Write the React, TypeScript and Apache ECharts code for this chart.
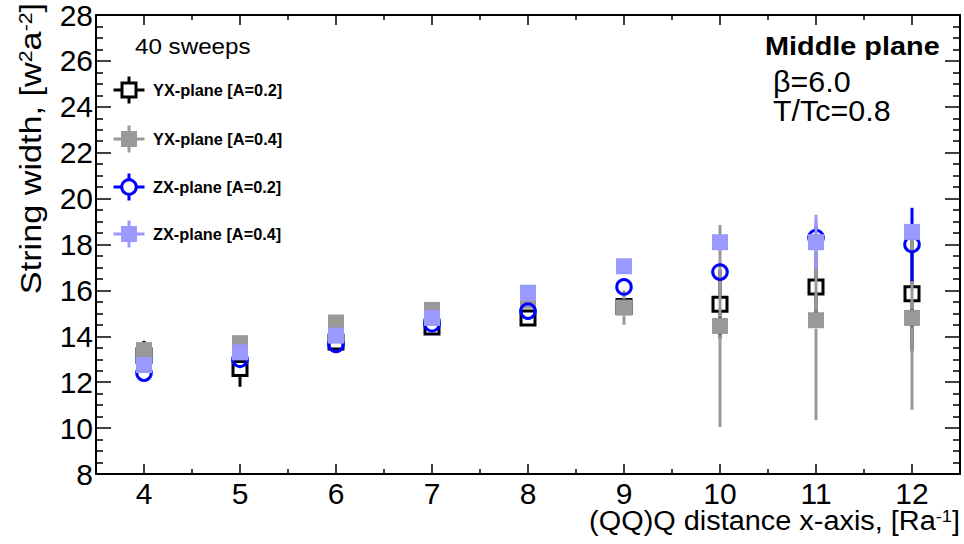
import React, { useEffect, useRef } from "react";
import * as echarts from "echarts";

const xValues = [4, 5, 6, 7, 8, 9, 10, 11, 12];
const xTickLabels = [4, 5, 6, 7, 8, 9, 10, 11, 12];
const xMinorTicks = [4.5, 5.5, 6.5, 7.5, 8.5, 9.5, 10.5, 11.5];

const yxA02 = [13.15, 12.6, 13.75, 14.4, 14.8, 15.3, 15.4, 16.15, 15.85];
const yxA02Err = [0.65, 0.8, 0.15, 0.15, 0.15, 0.2, 1.5, 1.5, 2.5];
const yxA04 = [13.4, 13.7, 14.6, 15.15, 15.55, 15.25, 14.45, 14.7, 14.8];
const yxA04Err = [0.2, 0.2, 0.15, 0.15, 0.2, 0.75, 4.4, 4.35, 4.0];
const zxA02 = [12.4, 13.0, 13.65, 14.55, 15.1, 16.15, 16.8, 18.3, 18.0];
const zxA02Err = [0.15, 0.15, 0.1, 0.15, 0.15, 0.2, 0.3, 0.5, 1.6];
const zxA04 = [12.75, 13.3, 14.03, 14.8, 15.9, 17.05, 18.1, 18.1, 18.55];
const zxA04Err = [0.1, 0.1, 0.1, 0.1, 0.1, 0.1, 0.2, 1.2, 0.3];

const legendNames = ["YX-plane [A=0.2]", "YX-plane [A=0.4]", "ZX-plane [A=0.2]", "ZX-plane [A=0.4]"];

const FONT = "'Liberation Sans', Arial, Helvetica, sans-serif";
const BLACK = "#000000";
const GRAY = "#999999";
const BLUE = "#0000ff";
const LBLUE = "#9999ff";

type Marker = "openSquare" | "square" | "openCircle";

function markerShape(marker: Marker, cx: number, cy: number, color: string): any {
  if (marker === "openSquare") {
    return { type: "rect", shape: { x: cx - 7, y: cy - 7, width: 14, height: 14 }, style: { fill: "none", stroke: color, lineWidth: 3 } };
  }
  if (marker === "openCircle") {
    return { type: "circle", shape: { cx, cy, r: 7.3 }, style: { fill: "none", stroke: color, lineWidth: 3 } };
  }
  return { type: "rect", shape: { x: cx - 8, y: cy - 8, width: 16, height: 16 }, style: { fill: color } };
}

function makeSeries(name: string, values: number[], errors: number[], marker: Marker, color: string, z: number): any {
  return {
    type: "custom",
    name,
    z,
    clip: false,
    encode: { x: 0, y: 1 },
    data: xValues.map((x, i) => [x, values[i], errors[i]]),
    renderItem: (_params: any, api: any) => {
      const x = api.value(0);
      const y = api.value(1);
      const e = api.value(2);
      const c = api.coord([x, y]);
      const t = api.coord([x, y + e]);
      const b = api.coord([x, y - e]);
      const half = 8.5;
      const children: any[] = [];
      if (c[1] - half > t[1]) {
        children.push({ type: "line", shape: { x1: c[0], y1: t[1], x2: c[0], y2: c[1] - half }, style: { stroke: color, lineWidth: 3 } });
      }
      if (b[1] > c[1] + half) {
        children.push({ type: "line", shape: { x1: c[0], y1: c[1] + half, x2: c[0], y2: b[1] }, style: { stroke: color, lineWidth: 3 } });
      }
      children.push(markerShape(marker, c[0], c[1], color));
      return { type: "group", children };
    },
  };
}

function legendEntry(label: string, marker: Marker, color: string, cy: number): any {
  const cx = 129;
  return {
    type: "group",
    children: [
      { type: "line", shape: { x1: cx - 15.5, y1: cy, x2: cx - 8, y2: cy }, style: { stroke: color, lineWidth: 3 } },
      { type: "line", shape: { x1: cx + 8, y1: cy, x2: cx + 15.5, y2: cy }, style: { stroke: color, lineWidth: 3 } },
      { type: "line", shape: { x1: cx, y1: cy - 13.5, x2: cx, y2: cy - 8 }, style: { stroke: color, lineWidth: 3 } },
      { type: "line", shape: { x1: cx, y1: cy + 8, x2: cx, y2: cy + 13.5 }, style: { stroke: color, lineWidth: 3 } },
      markerShape(marker, cx, cy, color),
      {
        type: "text",
        x: 153,
        y: cy,
        scaleX: 1.02,
        style: { text: label, font: `bold 16px ${FONT}`, fill: "#000", textAlign: "left", textVerticalAlign: "middle" },
      },
    ],
  };
}

export default function App() {
  const ref = useRef<HTMLDivElement>(null);
  useEffect(() => {
    if (!ref.current) return;
    const chart = echarts.init(ref.current, undefined, { renderer: "svg" });
    const axisLineStyle = { color: "#000", width: 2 };
    const tickStyle = { color: "#000", width: 1.5 };
    const grid = { left: 96, right: 4, top: 14, bottom: 70 };
    const baseX = { type: "value", min: 3.5, max: 12.5, gridIndex: 0, splitLine: { show: false } };
    const baseY = { type: "value", min: 8, max: 28, interval: 2, gridIndex: 0, splitLine: { show: false } };
    chart.setOption({
      animation: false,
      backgroundColor: "#ffffff",
      grid,
      xAxis: [
        {
          ...baseX,
          position: "bottom",
          axisLine: { show: true, lineStyle: axisLineStyle },
          axisTick: { show: true, inside: true, length: 10, lineStyle: tickStyle, customValues: xTickLabels },
          axisLabel: { show: true, customValues: xTickLabels, fontSize: 30, color: "#000", fontFamily: FONT, margin: 4 },
        },
        {
          ...baseX,
          position: "bottom",
          axisLine: { show: false },
          axisTick: { show: true, inside: true, length: 5, lineStyle: tickStyle, customValues: xMinorTicks },
          axisLabel: { show: false },
        },
        {
          ...baseX,
          position: "top",
          axisLine: { show: true, lineStyle: axisLineStyle },
          axisTick: { show: true, inside: true, length: 10, lineStyle: tickStyle, customValues: xTickLabels },
          axisLabel: { show: false },
        },
        {
          ...baseX,
          position: "top",
          axisLine: { show: false },
          axisTick: { show: true, inside: true, length: 5, lineStyle: tickStyle, customValues: xMinorTicks },
          axisLabel: { show: false },
        },
      ],
      yAxis: [
        {
          ...baseY,
          position: "left",
          axisLine: { show: true, lineStyle: axisLineStyle },
          axisTick: { show: true, inside: true, length: 15, lineStyle: tickStyle },
          minorTick: { show: true, splitNumber: 4, length: 7, lineStyle: tickStyle },
          axisLabel: { show: true, fontSize: 30, color: "#000", fontFamily: FONT, margin: 3 },
        },
        {
          ...baseY,
          position: "right",
          axisLine: { show: true, lineStyle: axisLineStyle },
          axisTick: { show: true, inside: true, length: 15, lineStyle: tickStyle },
          minorTick: { show: true, splitNumber: 4, length: 7, lineStyle: tickStyle },
          axisLabel: { show: false },
        },
      ],
      series: [
        makeSeries(legendNames[0], yxA02, yxA02Err, "openSquare", BLACK, 2),
        makeSeries(legendNames[1], yxA04, yxA04Err, "square", GRAY, 3),
        makeSeries(legendNames[2], zxA02, zxA02Err, "openCircle", BLUE, 4),
        makeSeries(legendNames[3], zxA04, zxA04Err, "square", LBLUE, 5),
      ],
      graphic: [
        legendEntry(legendNames[0], "openSquare", BLACK, 90),
        legendEntry(legendNames[1], "square", GRAY, 139),
        legendEntry(legendNames[2], "openCircle", BLUE, 187),
        legendEntry(legendNames[3], "square", LBLUE, 234),
        {
          type: "text",
          x: 135,
          y: 46,
          scaleX: 1.1,
          style: { text: "40 sweeps", font: `22px ${FONT}`, fill: "#000", textAlign: "left", textVerticalAlign: "middle" },
        },
        {
          type: "text",
          x: 765,
          y: 46,
          scaleX: 1.11,
          style: { text: "Middle plane", font: `bold 26px ${FONT}`, fill: "#000", textAlign: "left", textVerticalAlign: "middle" },
        },
        {
          type: "text",
          x: 773,
          y: 82,
          scaleX: 1.05,
          style: { text: "β=6.0", font: `29px ${FONT}`, fill: "#000", textAlign: "left", textVerticalAlign: "middle" },
        },
        {
          type: "text",
          x: 773,
          y: 111,
          scaleX: 1.05,
          style: { text: "T/Tc=0.8", font: `29px ${FONT}`, fill: "#000", textAlign: "left", textVerticalAlign: "middle" },
        },
        {
          type: "text",
          x: 960,
          y: 521,
          scaleX: 1.07,
          style: {
            text: "(QQ)Q distance x-axis, [Ra{sup|-1}]",
            fontSize: 27,
            fontFamily: FONT,
            fill: "#000",
            textAlign: "right",
            textVerticalAlign: "middle",
            rich: { sup: { fontSize: 17, fontFamily: FONT, verticalAlign: "top", fill: "#000" } },
          },
        },
        {
          type: "text",
          x: 31,
          y: 3,
          rotation: Math.PI / 2,
          scaleX: 1.18,
          style: {
            text: "String width, [w{sup|2}a{sup|-2}]",
            fontSize: 29,
            fontFamily: FONT,
            fill: "#000",
            textAlign: "right",
            textVerticalAlign: "middle",
            rich: { sup: { fontSize: 18, fontFamily: FONT, verticalAlign: "top", fill: "#000" } },
          },
        },
      ],
    });
    return () => chart.dispose();
  }, []);
  return <div ref={ref} style={{ position: "fixed", left: 0, top: 0, width: 964, height: 544 }} />;
}
